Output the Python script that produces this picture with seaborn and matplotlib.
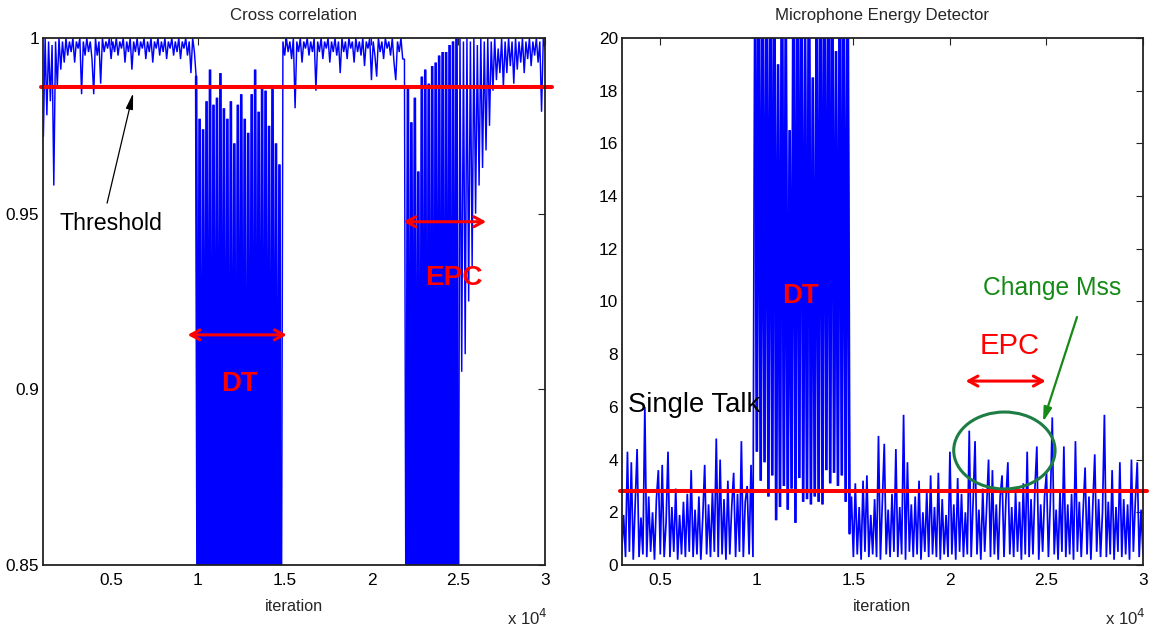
import numpy as np
import pandas as pd
import matplotlib
matplotlib.use("Agg")
import matplotlib.pyplot as plt
from matplotlib import font_manager
from matplotlib.patches import Ellipse
from matplotlib.ticker import FuncFormatter, FormatStrFormatter
import seaborn as sns

STEP = 100

# Cross correlation, segments start at these iterations
cc_seg_starts = [1100, 9900, 14900, 22000, 25100]
cc_single_talk_1 = [
    0.972, 1.0, 0.978, 0.999, 0.982, 0.998, 0.958, 0.999, 0.986, 1.0,
    0.991, 0.999, 0.993, 1.0, 0.995, 0.999, 0.996, 1.0, 0.993, 0.999,
    0.997, 1.0, 0.984, 0.999, 0.995, 1.0, 0.996, 0.999, 0.994, 0.984,
    1.0, 0.995, 0.999, 0.987, 1.0, 0.996, 0.999, 0.997, 1.0, 0.994,
    0.999, 0.996, 1.0, 0.995, 0.999, 0.997, 1.0, 0.993, 0.999, 0.996,
    1.0, 0.991, 0.999, 0.996, 1.0, 0.995, 0.999, 0.997, 1.0, 0.994,
    0.999, 0.996, 1.0, 0.993, 0.999, 0.997, 1.0, 0.995, 0.999, 0.996,
    1.0, 0.994, 0.999, 0.997, 1.0, 0.995, 0.999, 0.996, 1.0, 0.994,
    0.999, 0.997, 1.0, 0.995, 0.999, 0.990, 1.0, 0.996,
]
cc_double_talk = [
    0.989, 0.80, 0.977, 0.79, 0.974, 0.81, 0.982, 0.80, 0.991, 0.78,
    0.981, 0.80, 0.983, 0.79, 0.990, 0.81, 0.980, 0.80, 0.977, 0.78,
    0.982, 0.80, 0.970, 0.79, 0.981, 0.81, 0.984, 0.80, 0.977, 0.78,
    0.973, 0.80, 0.984, 0.79, 0.991, 0.80, 0.979, 0.81, 0.986, 0.79,
    0.985, 0.80, 0.975, 0.78, 0.986, 0.80, 0.970, 0.79, 0.964, 0.80,
]
cc_single_talk_2 = [
    0.999,
    0.995, 1.0, 0.996, 0.999, 0.994, 1.0, 0.980, 0.999, 0.996, 1.0,
    0.993, 0.999, 0.997, 1.0, 0.995, 0.999, 0.996, 1.0, 0.985, 0.999,
    0.996, 1.0, 0.994, 0.999, 0.997, 1.0, 0.993, 0.999, 0.996, 1.0,
    0.995, 0.999, 0.990, 1.0, 0.996, 0.999, 0.994, 1.0, 0.997, 0.999,
    0.993, 1.0, 0.996, 0.999, 0.995, 1.0, 0.992, 0.999, 0.997, 1.0,
    0.988, 0.999, 0.995, 0.989, 1.0, 0.996, 0.999, 0.994, 1.0, 0.997,
    0.999, 0.995, 1.0, 0.993, 0.988, 0.999, 0.996, 1.0, 0.994, 0.994,
]
cc_echo_path_change = [
    0.80, 0.986, 0.79, 0.976, 0.81, 0.983, 0.80, 0.962, 0.79, 0.989,
    0.80, 0.991, 0.78, 0.987, 0.80, 0.992, 0.79, 0.993, 0.81, 0.995,
    0.80, 0.996, 0.79, 0.996, 0.80, 0.998, 0.78, 0.999, 0.80, 1.0,
    0.81,
]
cc_recovery = [
    1.0, 0.905, 0.999, 0.91, 1.0, 0.925, 0.999, 0.935, 1.0, 0.95,
    0.998, 0.958, 1.0, 0.963, 0.999, 0.968, 1.0, 0.975, 0.999, 0.985,
    1.0, 0.988, 0.997, 0.99, 1.0, 0.986, 0.999, 0.99, 1.0, 0.992,
    0.999, 0.987, 1.0, 0.991, 0.999, 0.993, 1.0, 0.99, 0.999, 0.994,
    1.0, 0.992, 0.999, 0.995, 1.0, 0.993, 0.999, 0.979, 1.0, 0.997,
]
cc_threshold = 0.986

# Microphone energy, segments start at these iterations
me_seg_starts = [3000, 9900, 14900]
me_single_talk_1 = [
    0.4, 1.9, 0.3, 4.3, 0.5, 3.9, 0.2, 2.3, 4.4, 0.3,
    1.8, 0.4, 6.0, 0.3, 2.6, 0.5, 2.0, 0.2, 2.5, 3.6,
    0.4, 3.8, 0.3, 1.6, 4.3, 0.3, 2.2, 0.5, 2.9, 0.2,
    1.9, 0.4, 2.4, 0.3, 2.7, 0.5, 3.6, 0.3, 2.1, 0.4,
    2.6, 0.2, 1.8, 3.8, 0.4, 2.3, 0.3, 2.8, 0.5, 4.8,
    0.3, 4.0, 0.4, 2.5, 0.2, 3.2, 0.4, 2.2, 3.5, 0.3,
    2.7, 0.5, 4.7, 0.3, 2.4, 3.0, 0.4, 3.8, 0.3,
]
me_double_talk = [
    24, 4.3, 25, 3.2, 22, 3.9, 24, 2.6, 23, 3.4,
    25, 1.7, 19, 2.2, 24, 3.0, 21, 2.1, 16.5, 2.9,
    24, 1.6, 23, 3.3, 25, 2.4, 20, 2.5, 24, 2.3,
    18.5, 2.6, 22, 2.4, 25, 2.3, 24, 3.6, 23, 3.1,
    25, 3.5, 19.5, 3.0, 24, 3.4, 22, 2.4, 24, 1.2,
]
me_single_talk_2 = [
    2.6,
    0.3, 3.1, 0.4, 2.2, 0.2, 3.2, 0.5, 3.4, 0.3, 1.9,
    0.4, 2.5, 0.3, 4.9, 0.2, 2.4, 4.6, 0.4, 2.1, 0.3,
    2.7, 0.5, 4.4, 0.3, 2.2, 0.4, 5.7, 0.2, 3.9, 0.5,
    2.3, 0.3, 2.6, 0.4, 3.2, 0.2, 2.0, 0.5, 2.8, 0.3,
    3.4, 0.4, 2.2, 0.3, 3.5, 0.2, 2.5, 0.4, 1.9, 0.3,
    4.3, 0.4, 2.3, 0.2, 3.3, 0.5, 2.7, 0.3, 2.0, 0.4,
    5.1, 0.3, 2.4, 4.7, 0.4, 2.1, 0.2, 2.9, 0.5, 2.2,
    4.0, 0.3, 3.6, 0.4, 2.3, 0.2, 2.6, 3.4, 0.3, 2.5,
    3.9, 0.4, 2.2, 0.3, 2.8, 0.5, 2.4, 0.2, 3.1, 0.4,
    4.3, 0.3, 2.5, 0.4, 2.9, 4.5, 0.2, 2.3, 0.5, 2.6,
    3.5, 0.3, 2.4, 5.6, 0.4, 2.1, 0.2, 2.8, 0.5, 4.5,
    0.3, 2.3, 0.4, 2.7, 0.2, 4.7, 0.5, 2.4, 0.3, 2.1,
    3.7, 0.4, 2.6, 0.2, 2.3, 4.2, 0.5, 2.5, 0.3, 2.0,
    5.7, 0.3, 2.4, 0.4, 3.6, 0.2, 2.2, 0.5, 3.9, 0.3,
    2.5, 0.4, 2.3, 0.2, 4.0, 0.5, 2.4, 3.9, 0.3, 2.1,
    0.4,
]
me_threshold = 2.8

x_tick_values = [5000, 10000, 15000, 20000, 25000, 30000]
cc_y_ticks = [0.85, 0.9, 0.95, 1.0]
me_y_ticks = [0, 2, 4, 6, 8, 10, 12, 14, 16, 18, 20]


def build_frame(starts, segments):
    xs, ys = [], []
    for s, seg in zip(starts, segments):
        xs.append(s + STEP * np.arange(len(seg)))
        ys.append(np.asarray(seg, dtype=float))
    return pd.DataFrame({"iteration": np.concatenate(xs), "value": np.concatenate(ys)})


cc_segments = [cc_single_talk_1, cc_double_talk, cc_single_talk_2,
               cc_echo_path_change, cc_recovery]
me_segments = [me_single_talk_1, me_double_talk, me_single_talk_2]
cc_df = build_frame(cc_seg_starts, cc_segments)
me_df = build_frame(me_seg_starts, me_segments)
# dense (double-talk / echo-path-change) bursts, drawn again with a heavier stroke
cc_dense = [build_frame([cc_seg_starts[1]], [cc_double_talk]),
            build_frame([cc_seg_starts[3]], [cc_echo_path_change])]
me_dense = [build_frame([me_seg_starts[1]], [me_double_talk])]

# ---------------- style ----------------
sns.set_theme(style="white")
names = {f.name for f in font_manager.fontManager.ttflist}
NARROW = "Liberation Sans Narrow" in names
FONT = "Liberation Sans Narrow" if NARROW else "Liberation Sans"
plt.rcParams["font.family"] = [FONT, "DejaVu Sans"]
plt.rcParams["path.simplify"] = False
k = 1.0 if NARROW else 0.86

BLUE = "#0000ff"
RED = "#ff0000"
GREEN_TXT = "#168a16"
GREEN_ELL = "#1d7d45"

fig = plt.figure(figsize=(11.54, 6.31), dpi=100)
ax1 = fig.add_axes([0.0370, 0.1046, 0.4353, 0.8352])
ax2 = fig.add_axes([0.5387, 0.1046, 0.4518, 0.8352])

for ax, df, dense, lw in ((ax1, cc_df, cc_dense, 1.05), (ax2, me_df, me_dense, 1.25)):
    sns.lineplot(data=df, x="iteration", y="value", ax=ax, color=BLUE,
                 linewidth=lw, estimator=None, sort=False, legend=False,
                 solid_joinstyle="bevel")
    for d in dense:
        sns.lineplot(data=d, x="iteration", y="value", ax=ax, color=BLUE,
                     linewidth=1.9, estimator=None, sort=False, legend=False,
                     solid_joinstyle="bevel")

xfmt = FuncFormatter(lambda v, p: f"{v / 1e4:g}")


def style_axes(ax, title, xlim, ylim, yticks):
    ax.set_xlim(*xlim)
    ax.set_ylim(*ylim)
    ax.set_xticks(x_tick_values)
    ax.xaxis.set_major_formatter(xfmt)
    ax.set_yticks(yticks)
    ax.yaxis.set_major_formatter(FormatStrFormatter("%g"))
    ax.tick_params(direction="in", length=5, width=0.8, top=True, right=True,
                   labelsize=14.4 * k, colors="#222222", labelcolor="black")
    ax.tick_params(axis="x", pad=6)
    ax.tick_params(axis="y", pad=2.5)
    for sp in ax.spines.values():
        sp.set_color("#222222")
        sp.set_linewidth(1.3)
        sp.set_zorder(6)
    ax.set_title(title, fontsize=14 * k, pad=13)
    ax.set_xlabel("iteration", fontsize=13.6 * k, labelpad=8)
    ax.set_ylabel("")
    ax.text(1.006, -0.114, r"x 10$^4$", transform=ax.transAxes, ha="right",
            va="baseline", fontsize=14 * k)


style_axes(ax1, "Cross correlation", (1060, 30000), (0.85, 1.0), cc_y_ticks)
style_axes(ax2, "Microphone Energy Detector", (3000, 30000), (0, 20), me_y_ticks)

# thresholds
ax1.axhline(cc_threshold, xmin=-0.004, xmax=1.013, color=RED, lw=2.9, clip_on=False)
ax2.axhline(me_threshold, xmin=-0.004, xmax=1.007, color=RED, lw=2.9, clip_on=False)

dbl = dict(arrowstyle="<->,head_length=0.55,head_width=0.3", color=RED, lw=2.2,
           shrinkA=0, shrinkB=0)

# ---- left annotations ----
ax1.text(2000, 0.9454, "Threshold", fontsize=19.4 * k, color="black",
         ha="left", va="baseline")
ax1.annotate("", xy=(6270, 0.9843), xytext=(4770, 0.953),
             arrowprops=dict(arrowstyle="-|>,head_length=0.8,head_width=0.18",
                             color="black", lw=0.9, shrinkA=0, shrinkB=0))
ax1.annotate("", xy=(9410, 0.9155), xytext=(15120, 0.9155), arrowprops=dbl)
ax1.text(11340, 0.8996, "DT", fontsize=23 * k, color=RED, fontweight="bold",
         ha="left", va="baseline")
ax1.annotate("", xy=(21840, 0.9477), xytext=(26610, 0.9477), arrowprops=dbl)
ax1.text(23110, 0.9297, "EPC", fontsize=23.5 * k, color=RED, fontweight="bold",
         ha="left", va="baseline")

# ---- right annotations ----
ax2.text(3340, 5.81, "Single Talk", fontsize=23 * k, color="black",
         ha="left", va="baseline")
ax2.text(11310, 9.93, "DT", fontsize=23 * k, color=RED, fontweight="bold",
         ha="left", va="baseline")
ax2.text(21550, 8.0, "EPC", fontsize=24.5 * k, color=RED, ha="left", va="baseline")
ax2.annotate("", xy=(20810, 6.98), xytext=(24960, 6.98), arrowprops=dbl)
ax2.text(21720, 10.25, "Change Mss", fontsize=20.6 * k, color=GREEN_TXT,
         ha="left", va="baseline")
ax2.annotate("", xy=(24820, 5.43), xytext=(26580, 9.41),
             arrowprops=dict(arrowstyle="-|>,head_length=0.7,head_width=0.2",
                             color=GREEN_TXT, lw=1.6, shrinkA=0, shrinkB=0))
ax2.add_patch(Ellipse((22820, 4.345), width=5249, height=2.92, fill=False,
                      edgecolor=GREEN_ELL, lw=2.2, zorder=5))

fig.savefig("out.png", dpi=100)
